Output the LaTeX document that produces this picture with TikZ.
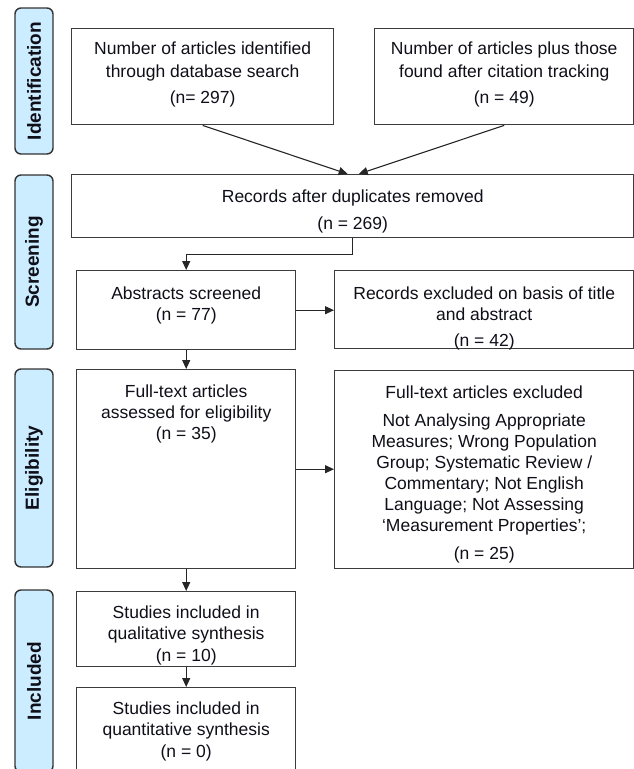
\documentclass[tikz,border=0pt]{standalone}
\usepackage{fontspec}
\setmainfont{Liberation Sans}
\usetikzlibrary{arrows.meta,calc}
\definecolor{lblfill}{RGB}{204,236,255}
\definecolor{lbldraw}{RGB}{50,50,50}
\definecolor{boxdraw}{RGB}{60,60,60}
\definecolor{txt}{RGB}{15,15,25}
\begin{document}
\begin{tikzpicture}[x=1pt,y=-1pt,
  phase/.style={draw=lbldraw, fill=lblfill, line width=1.4pt, rounded corners=6pt,
    rotate=90, minimum height=38pt, inner sep=0pt, text=txt,
    font=\fontsize{19}{22}\selectfont\bfseries},
  box/.style={draw=boxdraw, line width=1.4pt, fill=white, inner sep=0pt, anchor=north west},
  btext/.style={align=center, inner sep=0pt, anchor=north, text=txt,
    font=\fontsize{17.5}{21}\selectfont},
  arr/.style={draw=black!85, line width=1.1pt, -{Triangle[length=9pt,width=8pt]}}
]
\useasboundingbox (0,0) rectangle (634,769);
\clip (0,0) rectangle (634,769);

% phase labels
\node[phase, minimum width=146pt] (pid) at (34,81) {Identification};
\node[phase, minimum width=174pt] (psc) at (34,262) {Screening};
\node[phase, minimum width=198pt] (pel) at (34,468) {Eligibility};
\node[phase, minimum width=182pt] (pin) at (34,681) {Included};

% boxes
\node[box, minimum width=262pt, minimum height=96pt] (b1) at (71,28) {};
\node[box, minimum width=259pt, minimum height=96pt] (b2) at (374,28) {};
\node[box, minimum width=562pt, minimum height=63pt] (rec) at (71,174) {};
\node[box, minimum width=219pt, minimum height=79pt] (abs) at (76,270) {};
\node[box, minimum width=299pt, minimum height=78pt] (exa) at (334,270) {};
\node[box, minimum width=219pt, minimum height=199pt] (full) at (76,369) {};
\node[box, minimum width=299pt, minimum height=198pt] (exb) at (334,370) {};
\node[box, minimum width=219pt, minimum height=75pt] (st1) at (76,591) {};
\node[box, minimum width=219pt, minimum height=95pt] (st2) at (76,687) {};

% texts
\node[btext, font=\fontsize{17.5}{23}\selectfont] (t1) at ($(b1.north)+(0,13.5)$)
  {Number of articles identified\\ through database search\\[3pt] (n= 297)};
\node[btext, font=\fontsize{17.5}{23}\selectfont] (t2) at ($(b2.north)+(0,13.5)$)
  {Number of articles plus those\\ found after citation tracking\\[3pt] (n = 49)};
\node[btext] (trec) at ($(rec.north)+(0,15.5)$)
  {Records after duplicates removed\\[6pt] (n = 269)};
\node[btext] (tabs) at ($(abs.north)+(0,16.5)$)
  {Abstracts screened\\ (n = 77)};
\node[btext] (texa) at ($(exa.north)+(0,16.5)$)
  {Records excluded on basis of title\\ and abstract\\[5pt] (n = 42)};
\node[btext] (tfull) at ($(full.north)+(0,16)$)
  {Full-text articles\\ assessed for eligibility\\ (n = 35)};
\node[btext] (texb) at ($(exb.north)+(0,15.5)$)
  {Full-text articles excluded\\[7pt] Not Analysing Appropriate\\ Measures; Wrong Population\\ Group; Systematic Review /\\ Commentary; Not English\\ Language; Not Assessing\\ ‘Measurement Properties’;\\[7pt] (n = 25)};
\node[btext, font=\fontsize{17.5}{21.5}\selectfont] (tst1) at ($(st1.north)+(0,14.5)$)
  {Studies included in\\ qualitative synthesis\\ (n = 10)};
\node[btext, font=\fontsize{17.5}{21.5}\selectfont] (tst2) at ($(st2.north)+(0,14.5)$)
  {Studies included in\\ quantitative synthesis\\ (n = 0)};

% connectors
\draw[arr] (b1.south) -- ([xshift=-5pt]rec.north);
\draw[arr] (b2.south) -- ([xshift=6pt]rec.north);
\draw[arr] (rec.south) -- ++(0,16) -| (abs.north);
\draw[arr] (abs.east) -- (abs.east -| exa.west);
\draw[arr] (abs.south) -- (full.north);
\draw[arr] (full.east) -- (full.east -| exb.west);
\draw[arr] (full.south) -- (st1.north);
\draw[arr] (st1.south) -- (st2.north);
\end{tikzpicture}
\end{document}
